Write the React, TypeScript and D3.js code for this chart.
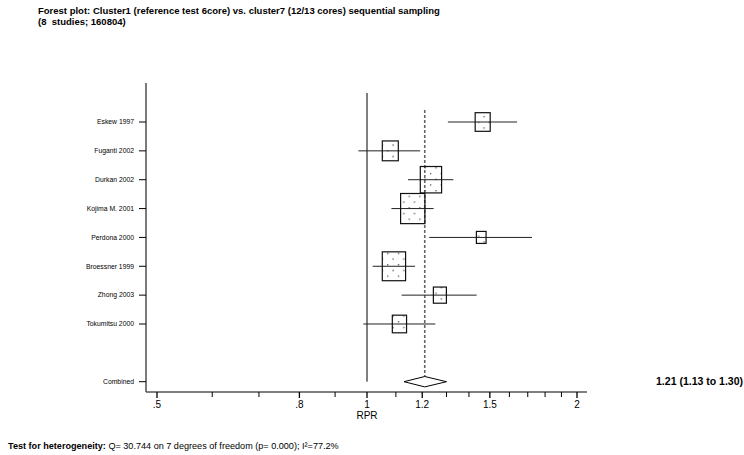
import React from "react";
import * as d3 from "d3";

const studies = ["Eskew 1997", "Fuganti 2002", "Durkan 2002", "Kojima M. 2001", "Perdona 2000", "Broessner 1999", "Zhong 2003", "Tokumitsu 2000"];
const rpr = [1.465, 1.08, 1.235, 1.163, 1.458, 1.093, 1.272, 1.113];
const lower = [1.306, 0.972, 1.145, 1.084, 1.228, 1.019, 1.121, 0.988];
const upper = [1.641, 1.192, 1.33, 1.246, 1.724, 1.172, 1.436, 1.253];
const weights = [8.9, 10.1, 17.9, 23.3, 3.7, 21.4, 6.7, 8.0];
const combined = { label: "Combined", est: 1.21, lo: 1.13, hi: 1.3 };
const majorTicks = [0.5, 0.8, 1, 1.2, 1.5, 2];
const majorLabels = [".5", ".8", "1", "1.2", "1.5", "2"];
const minorTicks = [0.6, 0.7, 0.9, 1.1, 1.3, 1.4, 1.6, 1.7, 1.8, 1.9];
const titleLines = [
  "Forest plot: Cluster1 (reference test 6core) vs. cluster7 (12/13 cores) sequential sampling",
  "(8  studies; 160804)",
];
const combinedText = "1.21 (1.13 to 1.30)";

export default function App() {
  const W = 744, H = 455;
  const x = d3.scaleLog().domain([0.5, 2]).range([157, 577]);
  const y = d3.scaleLinear().domain([0, 9]).range([122, 381.7]);
  const size = d3.scaleSqrt().domain([0, d3.max(weights) as number]).range([0, 24.3]);
  const axisLeft = 146, axisRight = 587, axisTop = 83, axisBottom = 392;
  const font = "Liberation Sans, Arial, sans-serif";
  const cy = y(9);
  const diamond = `M${x(combined.lo)},${cy} L${x(combined.est)},${cy - 5.2} L${x(combined.hi)},${cy} L${x(combined.est)},${cy + 5.2} Z`;
  return (
    <svg width={W} height={H} style={{ position: "absolute", left: 0, top: 0, background: "#fff" }} fontFamily={font}>
      <defs>
        <pattern id="dots" width={10.7} height={11.4} patternUnits="userSpaceOnUse">
          <rect x={2} y={2} width={1.2} height={1.2} fill="#333" />
          <rect x={7.3} y={7.7} width={1.2} height={1.2} fill="#333" />
        </pattern>
      </defs>
      <text x={38} y={14} fontSize={9.5} fontWeight="bold" fill="#000">{titleLines[0]}</text>
      <text x={38} y={24.5} fontSize={9.5} fontWeight="bold" fill="#000" style={{ whiteSpace: "pre" }}>{titleLines[1]}</text>
      {/* y axis */}
      <line x1={axisLeft} x2={axisLeft} y1={axisTop} y2={axisBottom} stroke="#333" strokeWidth={1.3} />
      {/* x axis */}
      <line x1={axisLeft} x2={axisRight} y1={axisBottom} y2={axisBottom} stroke="#555" strokeWidth={1.5} />
      {majorTicks.map((t, i) => (
        <g key={"M" + i}>
          <line x1={x(t)} x2={x(t)} y1={axisBottom} y2={axisBottom + 6} stroke="#000" strokeWidth={1.3} />
          <text x={x(t)} y={axisBottom + 15.5} fontSize={10} textAnchor="middle" fill="#000">{majorLabels[i]}</text>
        </g>
      ))}
      {minorTicks.map((t, i) => (
        <line key={"m" + i} x1={x(t)} x2={x(t)} y1={axisBottom} y2={axisBottom + 5} stroke="#000" strokeWidth={1} />
      ))}
      <text x={x(1)} y={axisBottom + 26.5} fontSize={10} textAnchor="middle" fill="#000">RPR</text>
      {/* row labels */}
      {[...studies, combined.label].map((s, i) => {
        const yy = i < studies.length ? y(i) : cy;
        return (
          <g key={"l" + i}>
            <line x1={axisLeft - 7} x2={axisLeft} y1={yy} y2={yy} stroke="#000" strokeWidth={1} />
            <text x={axisLeft - 12} y={yy + 2.3} fontSize={6.8} textAnchor="end" fill="#000">{s}</text>
          </g>
        );
      })}
      {/* reference lines */}
      <line x1={x(1)} x2={x(1)} y1={93} y2={cy} stroke="#000" strokeWidth={1} />
      <line x1={x(combined.est)} x2={x(combined.est)} y1={110} y2={cy - 5} stroke="#666" strokeWidth={1.6} strokeDasharray="3,2" />
      {/* studies */}
      {studies.map((s, i) => {
        const w = size(weights[i]);
        const h = w * 1.24;
        const cx = x(rpr[i]);
        return (
          <g key={"s" + i}>
            <line x1={x(lower[i])} x2={x(upper[i])} y1={y(i)} y2={y(i)} stroke="#222" strokeWidth={1} />
            <rect x={cx - w / 2} y={y(i) - h / 2} width={w} height={h} fill="url(#dots)" stroke="#111" strokeWidth={1.2} />
          </g>
        );
      })}
      <path d={diamond} fill="#fff" stroke="#000" strokeWidth={1} />
      <text x={743} y={cy + 3.5} fontSize={10.5} fontWeight="bold" textAnchor="end" fill="#000">{combinedText}</text>
      <text x={8} y={449} fontSize={9.1} fill="#000">
        <tspan fontWeight="bold">Test for heterogeneity:</tspan>
        <tspan> Q= 30.744 on 7 degrees of freedom (p= 0.000); I²=77.2%</tspan>
      </text>
    </svg>
  );
}
